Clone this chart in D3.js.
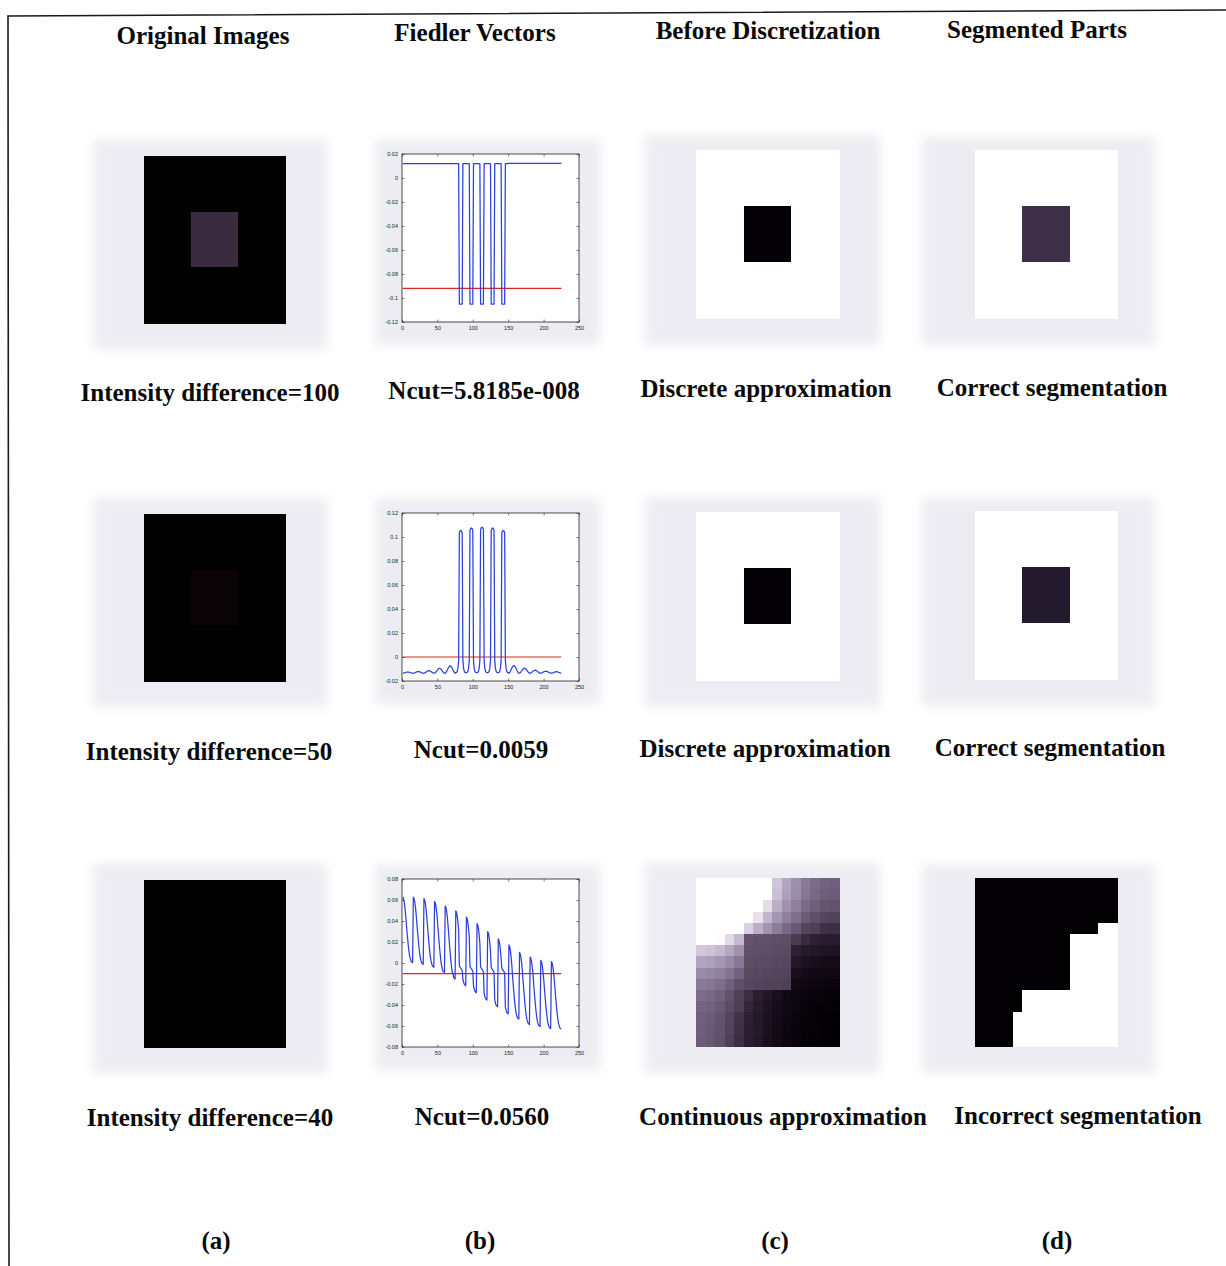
<!DOCTYPE html>
<html>
<head>
<meta charset="utf-8">
<script src="https://cdn.jsdelivr.net/npm/d3@7"></script>
<style>
  html, body { margin: 0; padding: 0; background: #ffffff; }
  svg { display: block; }
</style>
</head>
<body>
<script>
// ---------------------------------------------------------------------------
// Data
// ---------------------------------------------------------------------------
const columnTitles = ["Original Images", "Fiedler Vectors", "Before Discretization", "Segmented Parts"];
const panelLetters = ["(a)", "(b)", "(c)", "(d)"];
const intensityDiffs = [100, 50, 40];
const ncutValues = ["5.8185e-008", "0.0059", "0.0560"];
const approxLabels = ["Discrete approximation", "Discrete approximation", "Continuous approximation"];
const segmentationLabels = ["Correct segmentation", "Correct segmentation", "Incorrect segmentation"];

// splitting thresholds (red lines) and which side of them forms the shown segment
const thresholds = [-0.092, 0.0, -0.0102];
const segmentSide = ["below", "above", "above"];

// the 15x15 test image: a 5x5 square (rows/cols 5..9) inside the background
const imageSize = 15;
const squareRange = [5, 9];

const xTicks = [0, 50, 100, 150, 200, 250];
const xDomain = [0, 250];
const yDomains = [[-0.12, 0.02], [-0.02, 0.12], [-0.08, 0.08]];
const yTicks = [
  [-0.12, -0.1, -0.08, -0.06, -0.04, -0.02, 0, 0.02],
  [-0.02, 0, 0.02, 0.04, 0.06, 0.08, 0.1, 0.12],
  [-0.08, -0.06, -0.04, -0.02, 0, 0.02, 0.04, 0.06, 0.08]
];

// Fiedler vectors, one inner array per image column (15 pixels each, top to bottom)
const fiedler1 = [
  [0.012,0.012,0.012,0.012,0.012,0.012,0.012,0.012,0.012,0.012,0.012,0.012,0.012,0.012,0.012],
  [0.012,0.012,0.012,0.012,0.012,0.012,0.012,0.012,0.012,0.012,0.012,0.012,0.012,0.012,0.012],
  [0.012,0.012,0.012,0.012,0.012,0.012,0.012,0.012,0.012,0.012,0.012,0.012,0.012,0.012,0.012],
  [0.012,0.012,0.012,0.012,0.012,0.012,0.012,0.012,0.012,0.012,0.012,0.012,0.012,0.012,0.012],
  [0.012,0.012,0.012,0.012,0.012,0.012,0.012,0.012,0.012,0.012,0.012,0.012,0.012,0.012,0.012],
  [0.012,0.012,0.012,0.012,0.012,-0.105,-0.105,-0.105,-0.105,-0.105,0.012,0.012,0.012,0.012,0.012],
  [0.012,0.012,0.012,0.012,0.012,-0.105,-0.105,-0.105,-0.105,-0.105,0.012,0.012,0.012,0.012,0.012],
  [0.012,0.012,0.012,0.012,0.012,-0.105,-0.105,-0.105,-0.105,-0.105,0.012,0.012,0.012,0.012,0.012],
  [0.012,0.012,0.012,0.012,0.012,-0.105,-0.105,-0.105,-0.105,-0.105,0.012,0.012,0.012,0.012,0.012],
  [0.012,0.012,0.012,0.012,0.012,-0.105,-0.105,-0.105,-0.105,-0.105,0.012,0.012,0.012,0.012,0.012],
  [0.0122,0.0122,0.0122,0.0122,0.0122,0.0122,0.0122,0.0122,0.0122,0.0122,0.0122,0.0122,0.0122,0.0122,0.0122],
  [0.0122,0.0122,0.0122,0.0122,0.0122,0.0122,0.0122,0.0122,0.0122,0.0122,0.0122,0.0122,0.0122,0.0122,0.0122],
  [0.0122,0.0122,0.0122,0.0122,0.0122,0.0122,0.0122,0.0122,0.0122,0.0122,0.0122,0.0122,0.0122,0.0122,0.0122],
  [0.0122,0.0122,0.0122,0.0122,0.0122,0.0122,0.0122,0.0122,0.0122,0.0122,0.0122,0.0122,0.0122,0.0122,0.0122],
  [0.0122,0.0122,0.0122,0.0122,0.0122,0.0122,0.0122,0.0122,0.0122,0.0122,0.0122,0.0122,0.0122,0.0122,0.0122]
];

const fiedler2 = [
  [-0.0135,-0.0134,-0.0133,-0.0131,-0.0129,-0.0127,-0.0126,-0.0125,-0.0126,-0.0127,-0.0129,-0.0131,-0.0133,-0.0134,-0.0135],
  [-0.0135,-0.0134,-0.0132,-0.0129,-0.0126,-0.0124,-0.0122,-0.0121,-0.0122,-0.0124,-0.0126,-0.0129,-0.0132,-0.0134,-0.0135],
  [-0.0135,-0.0133,-0.0130,-0.0126,-0.0121,-0.0118,-0.0115,-0.0114,-0.0115,-0.0118,-0.0121,-0.0126,-0.0130,-0.0133,-0.0135],
  [-0.0135,-0.0131,-0.0125,-0.0117,-0.0108,-0.0101,-0.0096,-0.0094,-0.0096,-0.0101,-0.0108,-0.0117,-0.0125,-0.0131,-0.0135],
  [-0.0135,-0.0129,-0.0120,-0.0108,-0.0095,-0.0085,-0.0078,-0.0074,-0.0078,-0.0085,-0.0095,-0.0108,-0.0120,-0.0129,-0.0135],
  [-0.0130,-0.0128,-0.0120,-0.0095,-0.0030,0.1035,0.1050,0.1055,0.1050,0.1035,-0.0030,-0.0095,-0.0120,-0.0128,-0.0130],
  [-0.0130,-0.0128,-0.0120,-0.0095,-0.0030,0.1055,0.1070,0.1075,0.1070,0.1055,-0.0030,-0.0095,-0.0120,-0.0128,-0.0130],
  [-0.0130,-0.0128,-0.0120,-0.0095,-0.0030,0.1062,0.1077,0.1082,0.1077,0.1062,-0.0030,-0.0095,-0.0120,-0.0128,-0.0130],
  [-0.0130,-0.0128,-0.0120,-0.0095,-0.0030,0.1055,0.1070,0.1075,0.1070,0.1055,-0.0030,-0.0095,-0.0120,-0.0128,-0.0130],
  [-0.0130,-0.0128,-0.0120,-0.0095,-0.0030,0.1035,0.1050,0.1055,0.1050,0.1035,-0.0030,-0.0095,-0.0120,-0.0128,-0.0130],
  [-0.0135,-0.0129,-0.0119,-0.0107,-0.0094,-0.0083,-0.0076,-0.0072,-0.0076,-0.0083,-0.0094,-0.0107,-0.0119,-0.0129,-0.0135],
  [-0.0135,-0.0131,-0.0124,-0.0116,-0.0107,-0.0100,-0.0095,-0.0092,-0.0095,-0.0100,-0.0107,-0.0116,-0.0124,-0.0131,-0.0135],
  [-0.0135,-0.0133,-0.0129,-0.0124,-0.0119,-0.0115,-0.0112,-0.0110,-0.0112,-0.0115,-0.0119,-0.0124,-0.0129,-0.0133,-0.0135],
  [-0.0135,-0.0133,-0.0131,-0.0127,-0.0124,-0.0121,-0.0119,-0.0118,-0.0119,-0.0121,-0.0124,-0.0127,-0.0131,-0.0133,-0.0135],
  [-0.0135,-0.0134,-0.0132,-0.0129,-0.0127,-0.0124,-0.0123,-0.0122,-0.0123,-0.0124,-0.0127,-0.0129,-0.0132,-0.0134,-0.0135]
];

const fiedler3 = [
  [0.0628,0.0616,0.0584,0.0534,0.0466,0.0384,0.0303,0.0228,0.0159,0.0103,0.0059,0.0034,0.0016,0.0009,0.0003],
  [0.0628,0.0615,0.0583,0.0532,0.0461,0.0378,0.0295,0.0218,0.0147,0.0090,0.0045,0.0019,0.0000,-0.0007,-0.0013],
  [0.0612,0.0599,0.0566,0.0514,0.0442,0.0357,0.0272,0.0194,0.0122,0.0063,0.0018,-0.0008,-0.0028,-0.0034,-0.0041],
  [0.0586,0.0572,0.0539,0.0484,0.0410,0.0322,0.0233,0.0152,0.0078,0.0016,-0.0031,-0.0058,-0.0078,-0.0085,-0.0092],
  [0.0542,0.0528,0.0493,0.0438,0.0361,0.0271,0.0181,0.0097,0.0021,-0.0042,-0.0090,-0.0097,-0.0139,-0.0146,-0.0153],
  [0.0497,0.0483,0.0447,0.0390,0.0311,-0.0030,-0.0040,-0.0050,-0.0060,-0.0072,-0.0153,-0.0181,-0.0203,-0.0210,-0.0217],
  [0.0437,0.0423,0.0387,0.0329,0.0250,-0.0035,-0.0045,-0.0055,-0.0066,-0.0078,-0.0218,-0.0247,-0.0269,-0.0276,-0.0283],
  [0.0376,0.0361,0.0325,0.0267,0.0186,-0.0040,-0.0050,-0.0060,-0.0071,-0.0083,-0.0288,-0.0318,-0.0339,-0.0347,-0.0354],
  [0.0300,0.0286,0.0250,0.0192,0.0113,-0.0045,-0.0055,-0.0066,-0.0077,-0.0088,-0.0353,-0.0382,-0.0404,-0.0411,-0.0418],
  [0.0230,0.0216,0.0180,0.0123,0.0044,-0.0050,-0.0060,-0.0071,-0.0082,-0.0094,-0.0421,-0.0449,-0.0471,-0.0478,-0.0485],
  [0.0172,0.0158,0.0123,0.0066,-0.0012,-0.0110,-0.0196,-0.0280,-0.0358,-0.0422,-0.0471,-0.0500,-0.0521,-0.0528,-0.0535],
  [0.0102,0.0088,0.0054,-0.0001,-0.0077,-0.0166,-0.0256,-0.0338,-0.0414,-0.0476,-0.0524,-0.0552,-0.0572,-0.0579,-0.0586],
  [0.0057,0.0044,0.0011,-0.0042,-0.0095,-0.0202,-0.0288,-0.0367,-0.0440,-0.0500,-0.0546,-0.0573,-0.0593,-0.0599,-0.0606],
  [0.0025,0.0012,-0.0021,-0.0073,-0.0144,-0.0229,-0.0313,-0.0391,-0.0463,-0.0521,-0.0567,-0.0593,-0.0612,-0.0619,-0.0625],
  [0.0013,0.0000,-0.0032,-0.0084,-0.0154,-0.0238,-0.0322,-0.0399,-0.0470,-0.0528,-0.0573,-0.0599,-0.0618,-0.0625,-0.0631]
];
const fiedlerVectors = [fiedler1, fiedler2, fiedler3];

// ---------------------------------------------------------------------------
// Styles and layout
// ---------------------------------------------------------------------------
const backgroundColor = "#020102";
const squareColors = ["#3b2b3e", "#0b0407", "#020102"];   // inner square of the originals
const segmentColors = ["#3f3049", "#231a2e", "#030104"];  // segment pixels in column (d)
const hazeColor = "#ececf2";
const lineBlue = "#2f3fdc";
const lineRed = "#e4241c";
const serif = "'Liberation Serif','Times New Roman',serif";
const sans = "'Liberation Sans',Arial,sans-serif";

const W = 1226, H = 1266;
const titleX = [203, 475, 768, 1037], titleY = [44, 41, 39, 38];
const labelX = [[210, 484, 766, 1052], [209, 481, 765, 1050], [210, 482, 783, 1078]];
const labelY = [[401, 399, 397, 396], [760, 758, 757, 756], [1126, 1125, 1125, 1124]];
const letterX = [216, 480, 775, 1057], letterY = 1249;

const imgA = { x: 144, w: 141, h: 167, top: [156, 514, 880] };
const imgC = { x: 696, w: 143, h: 168, top: [150, 512, 878] };
const imgD = { x: 975, w: 142, h: 168, top: [150, 511, 878] };
const plotB = { x: 402, w: 177, h: 168, top: [154, 513, 879] };

// ---------------------------------------------------------------------------
const svg = d3.select("body").append("svg")
  .attr("width", W).attr("height", H)
  .attr("viewBox", `0 0 ${W} ${H}`);

const defs = svg.append("defs");
defs.append("filter").attr("id", "haze")
  .attr("x", "-30%").attr("y", "-30%").attr("width", "160%").attr("height", "160%")
  .append("feGaussianBlur").attr("stdDeviation", 6);

// outer frame (top and left edges)
svg.append("path")
  .attr("d", "M1226,10 L8,16 L9,1266")
  .attr("fill", "none").attr("stroke", "#1a1a1a").attr("stroke-width", 1.6);

// soft grey backdrop behind every picture
function haze(x0, y0, x1, y1) {
  svg.append("rect")
    .attr("x", x0).attr("y", y0).attr("width", x1 - x0).attr("height", y1 - y0)
    .attr("fill", hazeColor).attr("filter", "url(#haze)");
}

// a 15x15 pixel raster drawn with band scales
function raster(box, top, colorOf) {
  const xs = d3.scaleBand().domain(d3.range(imageSize)).range([box.x, box.x + box.w]);
  const ys = d3.scaleBand().domain(d3.range(imageSize)).range([top, top + box.h]);
  const cells = [];
  for (let j = 0; j < imageSize; j++)
    for (let i = 0; i < imageSize; i++) cells.push({ j, i });
  svg.append("g").attr("shape-rendering", "crispEdges")
    .selectAll("rect").data(cells).join("rect")
    .attr("x", d => xs(d.j)).attr("y", d => ys(d.i))
    .attr("width", xs.bandwidth() + 0.6).attr("height", ys.bandwidth() + 0.6)
    .attr("fill", d => colorOf(d.j, d.i));
}

const inSquare = (j, i) => j >= squareRange[0] && j <= squareRange[1] && i >= squareRange[0] && i <= squareRange[1];
const inSegment = (r, v) => segmentSide[r] === "below" ? v < thresholds[r] : v > thresholds[r];

// grey-purple ramp for the continuous eigenvector image
const continuousColor = d3.scaleLinear()
  .domain([-0.063, -0.04, -0.02, -0.006, 0.005, 0.02, 0.03, 0.036])
  .range(["#020004", "#140a18", "#2e2034", "#5a4a62", "#7a6a88", "#a698b4", "#d0c6da", "#ffffff"])
  .clamp(true);

const fmtTick = d => String(+d.toFixed(2));

for (let r = 0; r < 3; r++) {
  const vec = fiedlerVectors[r];

  // (a) original image
  {
    const t = imgA.top[r];
    haze(imgA.x - 51, t - 16, imgA.x + imgA.w + 42, t + imgA.h + 26);
    raster(imgA, t, (j, i) => inSquare(j, i) ? squareColors[r] : backgroundColor);
  }

  // (b) Fiedler vector plot
  {
    const t = plotB.top[r];
    haze(plotB.x - 27, t - 14, plotB.x + plotB.w + 21, t + plotB.h + 23);
    const x = d3.scaleLinear().domain(xDomain).range([plotB.x, plotB.x + plotB.w]);
    const y = d3.scaleLinear().domain(yDomains[r]).range([t + plotB.h, t]);
    svg.append("rect").attr("x", plotB.x).attr("y", t).attr("width", plotB.w).attr("height", plotB.h)
      .attr("fill", "#ffffff");

    const pts = [];
    vec.forEach((col, j) => col.forEach((v, i) => pts.push({ k: j * imageSize + i + 1, v })));
    const line = d3.line().x(d => x(d.k)).y(d => y(d.v));

    svg.append("path").datum([{ k: 1, v: thresholds[r] }, { k: pts.length, v: thresholds[r] }])
      .attr("d", line).attr("fill", "none").attr("stroke", lineRed).attr("stroke-width", 1.2);
    svg.append("path").datum(pts)
      .attr("d", line).attr("fill", "none").attr("stroke", lineBlue).attr("stroke-width", 1.25)
      .attr("stroke-linejoin", "round");

    const axStyle = g => {
      g.select(".domain").remove();
      g.selectAll(".tick line").attr("stroke", "#222").attr("stroke-width", 0.6);
      g.selectAll(".tick text").attr("font-family", sans).attr("font-size", 5.5).attr("fill", "#222");
    };
    svg.append("g").attr("transform", `translate(0,${t + plotB.h})`)
      .call(d3.axisBottom(x).tickValues(xTicks).tickSizeInner(-2.5).tickSizeOuter(0).tickPadding(4).tickFormat(d3.format("d")))
      .call(axStyle);
    svg.append("g").attr("transform", `translate(0,${t})`)
      .call(d3.axisTop(x).tickValues(xTicks).tickSizeInner(-2.5).tickSizeOuter(0).tickFormat(""))
      .call(axStyle);
    svg.append("g").attr("transform", `translate(${plotB.x},0)`)
      .call(d3.axisLeft(y).tickValues(yTicks[r]).tickSizeInner(-2.5).tickSizeOuter(0).tickPadding(4).tickFormat(fmtTick))
      .call(axStyle);
    svg.append("g").attr("transform", `translate(${plotB.x + plotB.w},0)`)
      .call(d3.axisRight(y).tickValues(yTicks[r]).tickSizeInner(-2.5).tickSizeOuter(0).tickFormat(""))
      .call(axStyle);
    svg.append("rect").attr("x", plotB.x).attr("y", t).attr("width", plotB.w).attr("height", plotB.h)
      .attr("fill", "none").attr("stroke", "#222").attr("stroke-width", 0.8);
  }

  // (c) eigenvector before discretization
  {
    const t = imgC.top[r];
    haze(imgC.x - 51, t - 15, imgC.x + imgC.w + 41, t + imgC.h + 27);
    if (r < 2) {
      raster(imgC, t, (j, i) => inSegment(r, vec[j][i]) ? "#040206" : "#ffffff");
    } else {
      raster(imgC, t, (j, i) => continuousColor(vec[j][i]));
    }
  }

  // (d) segmented part
  {
    const t = imgD.top[r];
    haze(imgD.x - 53, t - 13, imgD.x + imgD.w + 38, t + imgD.h + 27);
    raster(imgD, t, (j, i) => inSegment(r, vec[j][i]) ? segmentColors[r] : "#ffffff");
  }
}

// ---------------------------------------------------------------------------
// Text
// ---------------------------------------------------------------------------
function label(txt, x, y) {
  svg.append("text").attr("x", x).attr("y", y).attr("text-anchor", "middle")
    .attr("font-family", serif).attr("font-weight", "bold").attr("font-size", 25)
    .attr("fill", "#0a0a0a").text(txt);
}

columnTitles.forEach((t, c) => label(t, titleX[c], titleY[c]));
for (let r = 0; r < 3; r++) {
  const texts = [
    `Intensity difference=${intensityDiffs[r]}`,
    `Ncut=${ncutValues[r]}`,
    approxLabels[r],
    segmentationLabels[r]
  ];
  texts.forEach((t, c) => label(t, labelX[r][c], labelY[r][c]));
}
panelLetters.forEach((t, c) => label(t, letterX[c], letterY));
</script>
</body>
</html>
